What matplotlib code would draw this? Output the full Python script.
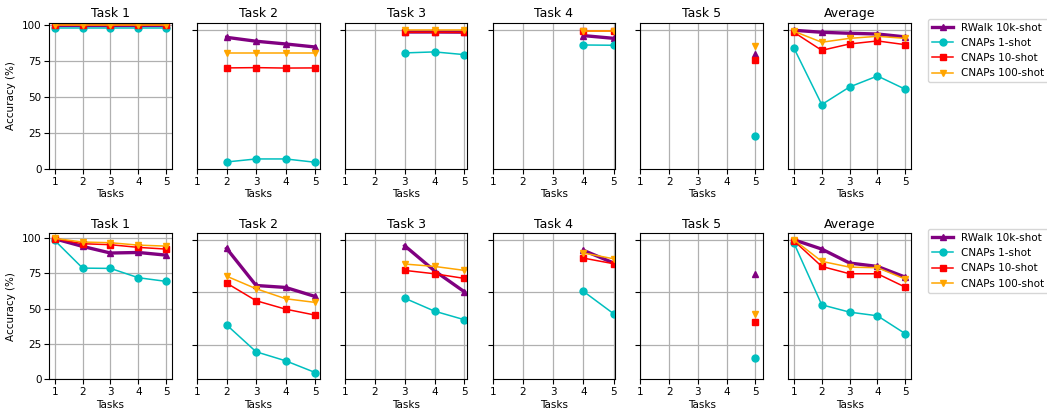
import matplotlib
matplotlib.use('Agg')
import matplotlib.pyplot as plt

tasks = [1, 2, 3, 4, 5]
titles = ['Task 1', 'Task 2', 'Task 3', 'Task 4', 'Task 5', 'Average']
names = ['RWalk 10k-shot', 'CNAPs 1-shot', 'CNAPs 10-shot', 'CNAPs 100-shot']

# top row, one list per panel (task k panel starts at x=k)
top_rwalk = [[99.9, 99.9, 99.9, 99.9, 99.9], [91.2, 88.5, 86.6, 84.5],
             [94.9, 94.9, 94.8], [92.4, 90.5], [79.9],
             [96.1, 94.7, 94.0, 93.5, 91.5]]
top_1shot = [[97.9, 97.9, 97.9, 97.9, 97.9], [4.8, 6.9, 6.9, 4.6],
             [80.4, 81.1, 79.2], [85.9, 85.7], [22.6],
             [83.8, 44.6, 56.8, 64.4, 55.2]]
top_10shot = [[99.6, 99.6, 99.6, 99.6, 99.6], [70.0, 70.2, 69.9, 70.0],
              [94.7, 94.7, 94.6], [95.4, 95.4], [75.7],
              [94.7, 82.2, 86.6, 88.7, 86.1]]
top_100shot = [[99.8, 99.8, 99.8, 99.8, 99.8], [80.4, 80.4, 80.4, 80.4],
               [96.1, 96.1, 96.1], [95.8, 95.8], [85.0],
               [95.4, 87.8, 90.5, 91.9, 90.5]]

# bottom row
bot_rwalk = [[99.5, 94.1, 89.4, 89.8, 87.9], [92.7, 66.4, 65.0, 58.6],
             [94.6, 76.8, 61.9], [91.3, 82.3], [74.5],
             [98.8, 92.2, 82.3, 79.9, 72.3]]
bot_1shot = [[98.3, 78.7, 78.5, 71.9, 69.3], [38.5, 19.4, 13.0, 4.7],
             [57.4, 48.2, 42.1], [62.2, 46.3], [14.7],
             [96.5, 52.7, 47.5, 44.9, 32.2]]
bot_10shot = [[99.5, 96.0, 95.3, 93.4, 92.2], [68.1, 55.6, 49.6, 45.4],
              [77.1, 74.7, 71.4], [85.8, 81.8], [40.2],
              [98.1, 79.9, 74.7, 74.7, 65.2]]
bot_100shot = [[99.8, 97.2, 96.7, 95.0, 94.3], [73.0, 64.1, 57.0, 54.4],
               [81.6, 79.9, 77.1], [89.4, 85.3], [46.1],
               [98.8, 83.5, 79.4, 79.0, 70.9]]

rows = [
    [top_rwalk, top_1shot, top_10shot, top_100shot],
    [bot_rwalk, bot_1shot, bot_10shot, bot_100shot],
]
row_ylim = [101.2, 103.5]
# unlabeled ticks on the panels right of the first column
row_other_ticks = [[96.5], [98.8, 61.5, 24.1]]

styles = [
    dict(color='purple', marker='^', lw=2.4, ms=5),
    dict(color='c', marker='o', lw=1.1, ms=5),
    dict(color='r', marker='s', lw=1.1, ms=5),
    dict(color='orange', marker='v', lw=1.1, ms=5),
]

fig, axes = plt.subplots(2, 6, figsize=(10.47, 4.09), dpi=100)
fig.subplots_adjust(left=0.047, right=0.870, top=0.944, bottom=0.073,
                    wspace=0.206, hspace=0.44)

for r in range(2):
    for c in range(6):
        ax = axes[r, c]
        xs = tasks if c == 5 else tasks[c:]
        for s, series in enumerate(rows[r]):
            ax.plot(xs, series[c], label=names[s], **styles[s])
        ax.set_title(titles[c], fontsize=9, pad=4)
        ax.set_xticks(tasks)
        ax.set_ylim(0, row_ylim[r])
        if c == 0:
            ax.set_yticks([0, 25, 50, 75, 100])
            ax.set_ylabel('Accuracy (%)', fontsize=7.5)
        else:
            ax.set_yticks(row_other_ticks[r])
            ax.set_yticklabels([])
        ax.set_xlabel('Tasks', fontsize=7.5, labelpad=2)
        ax.tick_params(labelsize=7.5, pad=2)
        ax.grid(True, color='#b0b0b0', lw=0.9)
        if c == 5:
            ax.legend(loc='upper left', bbox_to_anchor=(1.14, 1.03),
                      borderaxespad=0, fontsize=7.5)

plt.savefig('out.png', dpi=100)
